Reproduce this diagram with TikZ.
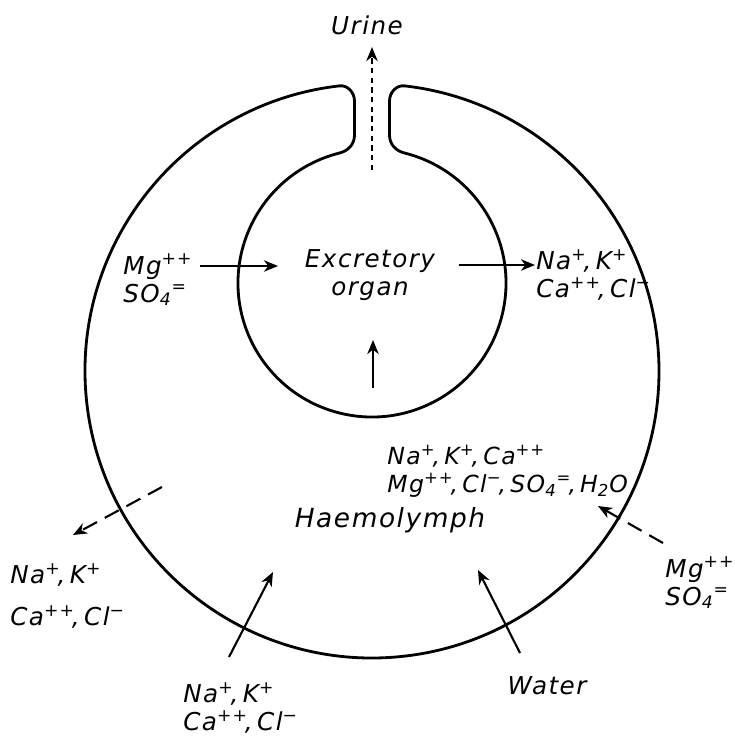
\documentclass[tikz,border=0pt]{standalone}
\usepackage{fontspec}
\setmainfont{DejaVu Sans}[LetterSpace=6]
\usepackage{tikz}
\usetikzlibrary{arrows.meta,calc}
\newcommand{\chg}[1]{\textsuperscript{#1}}
\newcommand{\chgc}[1]{\textsuperscript{#1}\kern-.12em,\kern.18em}
\tikzset{
  wall/.style={line width=1.6pt,line join=round},
  flux/.style={-{Stealth[length=8pt,width=6.5pt,inset=2.5pt]},line width=1.2pt},
  leak/.style={flux,dash pattern=on 9pt off 5pt},
  drip/.style={flux,dash pattern=on 3pt off 2.5pt},
  iontext/.style={font=\fontsize{14}{16}\selectfont\itshape,align=left,inner sep=0pt},
}

\begin{document}
\begin{tikzpicture}
  \useasboundingbox (-7.44,-7.32) rectangle (7.26,7.42);
  % body wall with the excretory organ and its duct
  \draw[wall] (-0.35,5.40) to[out=90,in=6.5] (96.5:5.74)
    arc[start angle=96.5,end angle=443.5,radius=5.74]
    to[out=173.5,in=90] (0.35,5.40) -- (0.35,4.72)
    to[out=-90,in=166] ($(0,1.76)+(76:2.68)$)
    arc[start angle=76,end angle=-256,radius=2.68]
    to[out=14,in=-90] (-0.35,4.72) -- cycle;
  % texts
  \node[iontext] (urine) at (-0.1,6.92) {Urine};
  \node[iontext,align=center] (organ) at (-0.04,1.92) {Excretory\\organ};
  \node[iontext,anchor=west] (mgin) at (-4.98,1.82) {Mg\chg{++}\\SO\textsubscript{4}\chg{=}};
  \node[iontext,anchor=west] (naout) at (3.28,1.92) {Na\chgc{+}K\chg{+}\\Ca\chgc{++}Cl\chg{−}};
  \node[iontext,anchor=west,font=\fontsize{13.4}{16}\selectfont\itshape] (blood) at (0.30,-2.0) {Na\chgc{+}K\chgc{+}Ca\chg{++}\\Mg\chgc{++}Cl\chgc{−}SO\textsubscript{4}\chgc{=}H\textsubscript{2}O};
  \node[iontext,font=\fontsize{15}{16}\selectfont\itshape] (haemo) at (0.36,-2.98) {Haemolymph};
  \node[iontext,anchor=west] (mgsea) at (5.86,-4.24) {Mg\chg{++}\\SO\textsubscript{4}\chg{=}};
  \node[iontext,anchor=west] (nalost) at (-7.24,-4.5) {Na\chgc{+}K\chg{+}\\[8pt]Ca\chgc{++}Cl\chg{−}};
  \node[iontext,anchor=west] (nagut) at (-3.78,-6.74) {Na\chgc{+}K\chg{+}\\Ca\chgc{++}Cl\chg{−}};
  \node[iontext] (water) at (3.5,-6.3) {Water};
  % arrow ends
  \coordinate (u0) at (0,4.02);      \coordinate (u1) at (0,6.48);
  \coordinate (m0) at (-3.44,2.10);  \coordinate (m1) at (-1.88,2.10);
  \coordinate (n0) at (1.74,2.12);   \coordinate (n1) at (3.26,2.12);
  \coordinate (v0) at (0.02,-0.34);  \coordinate (v1) at (0.02,0.62);
  \coordinate (s0) at (5.82,-3.44);  \coordinate (s1) at (4.52,-2.70);
  \coordinate (l0) at (-4.20,-2.32); \coordinate (l1) at (-5.98,-3.28);
  \coordinate (g0) at (-2.86,-5.72); \coordinate (g1) at (-1.98,-4.02);
  \coordinate (w0) at (2.96,-5.64);  \coordinate (w1) at (2.12,-3.98);
  \draw[drip] (u0) -- (u1);
  \draw[flux] (m0) -- (m1);
  \draw[flux] (n0) -- (n1);
  \draw[flux] (v0) -- (v1);
  \draw[leak] (s0) -- (s1);
  \draw[leak] (l0) -- (l1);
  \draw[flux] (g0) -- (g1);
  \draw[flux] (w0) -- (w1);
\end{tikzpicture}
\end{document}
